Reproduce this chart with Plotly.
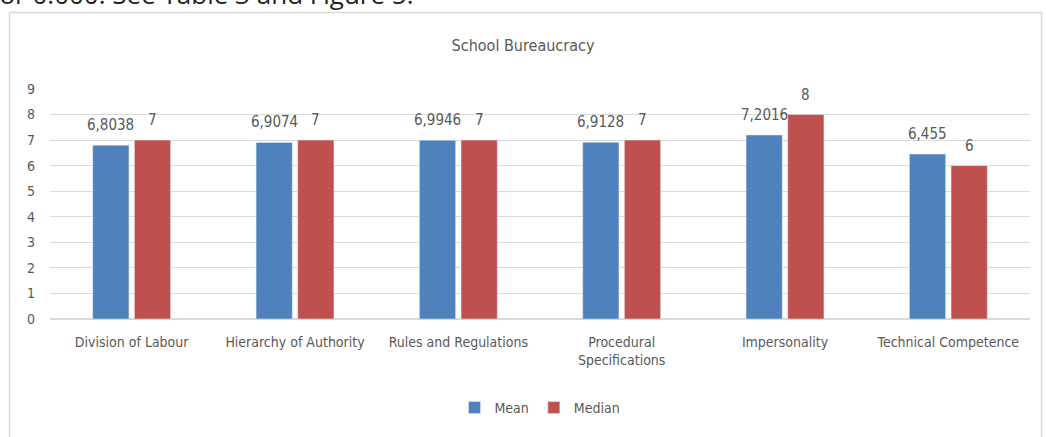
import plotly.graph_objects as go

categories = ["Division of Labour", "Hierarchy of Authority", "Rules and Regulations",
              "Procedural<br>Specifications", "Impersonality", "Technical Competence"]
mean_vals = [6.8038, 6.9074, 6.9946, 6.9128, 7.2016, 6.455]
median_vals = [7, 7, 7, 7, 8, 6]

def fmt(v):
    s = ("%g" % v).replace(".", ",")
    return s

FONT = "DejaVu Sans Condensed, Liberation Sans Narrow, Arial Narrow, sans-serif"
GRAY = "#595959"
FS = 14
BARGAP = 0.49

fig = go.Figure()
fig.add_trace(go.Bar(name="Mean", x=categories, y=mean_vals,
                     marker=dict(color="#4f81bd")))
fig.add_trace(go.Bar(name="Median", x=categories, y=median_vals,
                     marker=dict(color="#c0504d")))

# paper coords helpers (plot area: x 50..1030 px, y 89..319 px)
def px_x(p):
    return (p - 50) / 980.0
def px_y(p):
    return (319 - p) / 230.0

fig.update_layout(
    width=1046, height=437,
    margin=dict(l=50, r=16, t=89, b=118, autoexpand=False),
    paper_bgcolor="white", plot_bgcolor="white",
    barmode="group", bargap=BARGAP, bargroupgap=0.13,
    font=dict(family=FONT, color=GRAY, size=FS),
    title=dict(text="School Bureaucracy", x=0.5, xanchor="center",
               y=1 - 45 / 437, yanchor="middle",
               font=dict(family=FONT, size=16, color=GRAY)),
    xaxis=dict(showgrid=False, showline=False, ticks="", ticklabelstandoff=13,
               tickfont=dict(family=FONT, size=FS, color=GRAY)),
    yaxis=dict(range=[0, 9], dtick=1, showgrid=True, gridcolor="#d9d9d9",
               gridwidth=1, zeroline=True, zerolinecolor="#d9d9d9", ticks="",
               ticklabelstandoff=14,
               tickfont=dict(family=FONT, size=FS, color=GRAY)),
    legend=dict(orientation="h", x=0.5, xanchor="center", y=px_y(408), yanchor="middle",
                font=dict(family=FONT, size=FS, color=GRAY),
                traceorder="normal"),
    showlegend=True,
)

# value labels above the bars (offset to each bar of the group)
cat_px = 980.0 / len(categories)
half_slot = cat_px * (1 - BARGAP) / 4.0
for series, sign in ((mean_vals, -1), (median_vals, 1)):
    for c, v in zip(categories, series):
        fig.add_annotation(x=c, y=v, xref="x", yref="y", text=fmt(v),
                           showarrow=False, yanchor="bottom", yshift=9,
                           xshift=sign * half_slot,
                           font=dict(family=FONT, size=15, color=GRAY))

fig.add_shape(type="path", xref="paper", yref="paper",
              path="M %f %f L %f %f L %f %f L %f %f" % (
                  px_x(9.5), px_y(460), px_x(9.5), px_y(12.5),
                  px_x(1041.5), px_y(12.5), px_x(1041.5), px_y(460)),
              line=dict(color="#d9d9d9", width=1.5))

fig.add_annotation(text="For 0.000. See Table 3 and Figure 5.", xref="paper", yref="paper",
                   x=px_x(-16), y=px_y(14), xanchor="left", yanchor="bottom",
                   showarrow=False, font=dict(family="Open Sans, sans-serif", size=26, color="#222222"))

fig.write_html("out.html", config={"displayModeBar": False},
               post_script="document.body.style.margin='0';document.body.style.overflow='hidden';")
